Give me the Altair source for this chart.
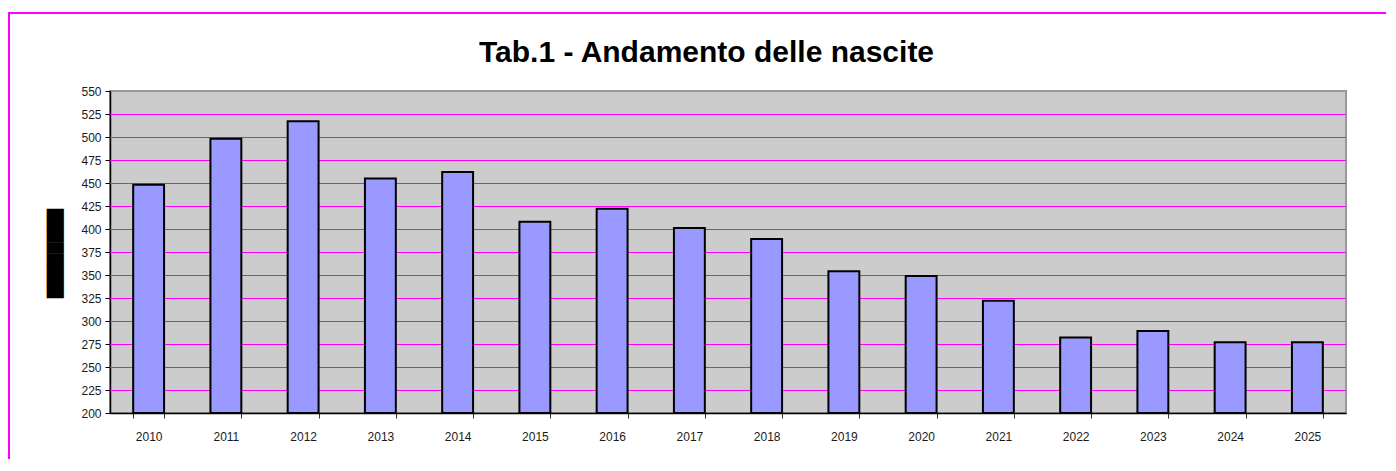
import altair as alt
import pandas as pd

years = [str(y) for y in range(2010, 2026)]
births = [448, 498, 517, 455, 462, 408, 422, 401, 389, 354, 349, 322, 282, 289, 277, 277]
y_ticks = list(range(200, 551, 25))
grid_values = y_ticks[1:-1]
y_min, y_max = 200, 550
title_text = "Tab.1 - Andamento delle nascite"
y_title = "████████"

df = pd.DataFrame({"anno": years, "nascite": births, "base": [y_min] * len(years)})
grid_df = pd.DataFrame({"g": grid_values})

y_scale = alt.Scale(domain=[y_min, y_max], nice=False, zero=False)
y_axis = alt.Axis(
    values=y_ticks, title=y_title, titleFont="DejaVu Sans", titleFontSize=14.5,
    titleColor="#000000", titleAngle=270, titleX=-55, titleY=162,
    titleAlign="center", titleBaseline="middle", titleFontWeight="normal",
    labelFont="Liberation Sans", labelFontSize=12, labelColor="#1a1a1a",
    labelPadding=4, tickSize=5, tickColor="#000000", tickWidth=1,
    domainColor="#000000", domainWidth=1.5, grid=False,
)

grid = alt.Chart(grid_df).mark_rule(color="#FF00FF", strokeWidth=1, yOffset=0.5).encode(
    y=alt.Y("g:Q", scale=y_scale, axis=y_axis)
)

bars = alt.Chart(df).mark_bar(
    fill="#9999FF", stroke="#000000", strokeWidth=2
).encode(
    x=alt.X(
        "anno:N", sort=years,
        scale=alt.Scale(paddingInner=0.6, paddingOuter=0.3),
        axis=alt.Axis(
            title=None, labelAngle=0, tickBand="extent",
            labelFont="Liberation Sans", labelFontSize=12, labelColor="#1a1a1a",
            labelPadding=13, tickSize=5, tickColor="#333333", tickWidth=1,
            domainColor="#000000", domainWidth=1.5, grid=False,
        ),
    ),
    y=alt.Y("nascite:Q", scale=y_scale, axis=y_axis),
    y2=alt.Y2("base:Q"),
)

border = alt.Chart(pd.DataFrame({"k": [0]})).mark_rect(
    fillOpacity=0, stroke="#FF00FF", strokeWidth=2
).encode(
    x=alt.value(-101), x2=alt.value(1320), y=alt.value(-78), y2=alt.value(420)
)

chart = alt.layer(border, grid, bars).properties(
    width=1236, height=322,
    autosize=alt.AutoSizeParams(type="none"),
    padding={"left": 102, "top": 83, "right": 40, "bottom": 46},
    background="white",
    title=alt.TitleParams(
        title_text, font="Liberation Sans", fontSize=30, fontWeight="bold",
        color="#000000", anchor="middle", dx=-21.5, dy=80, baseline="alphabetic", offset=0,
    ),
).configure_view(fill="#CCCCCC", stroke="#999999", strokeWidth=2)

chart.save("out.html", embed_options={"renderer": "svg", "actions": False})
